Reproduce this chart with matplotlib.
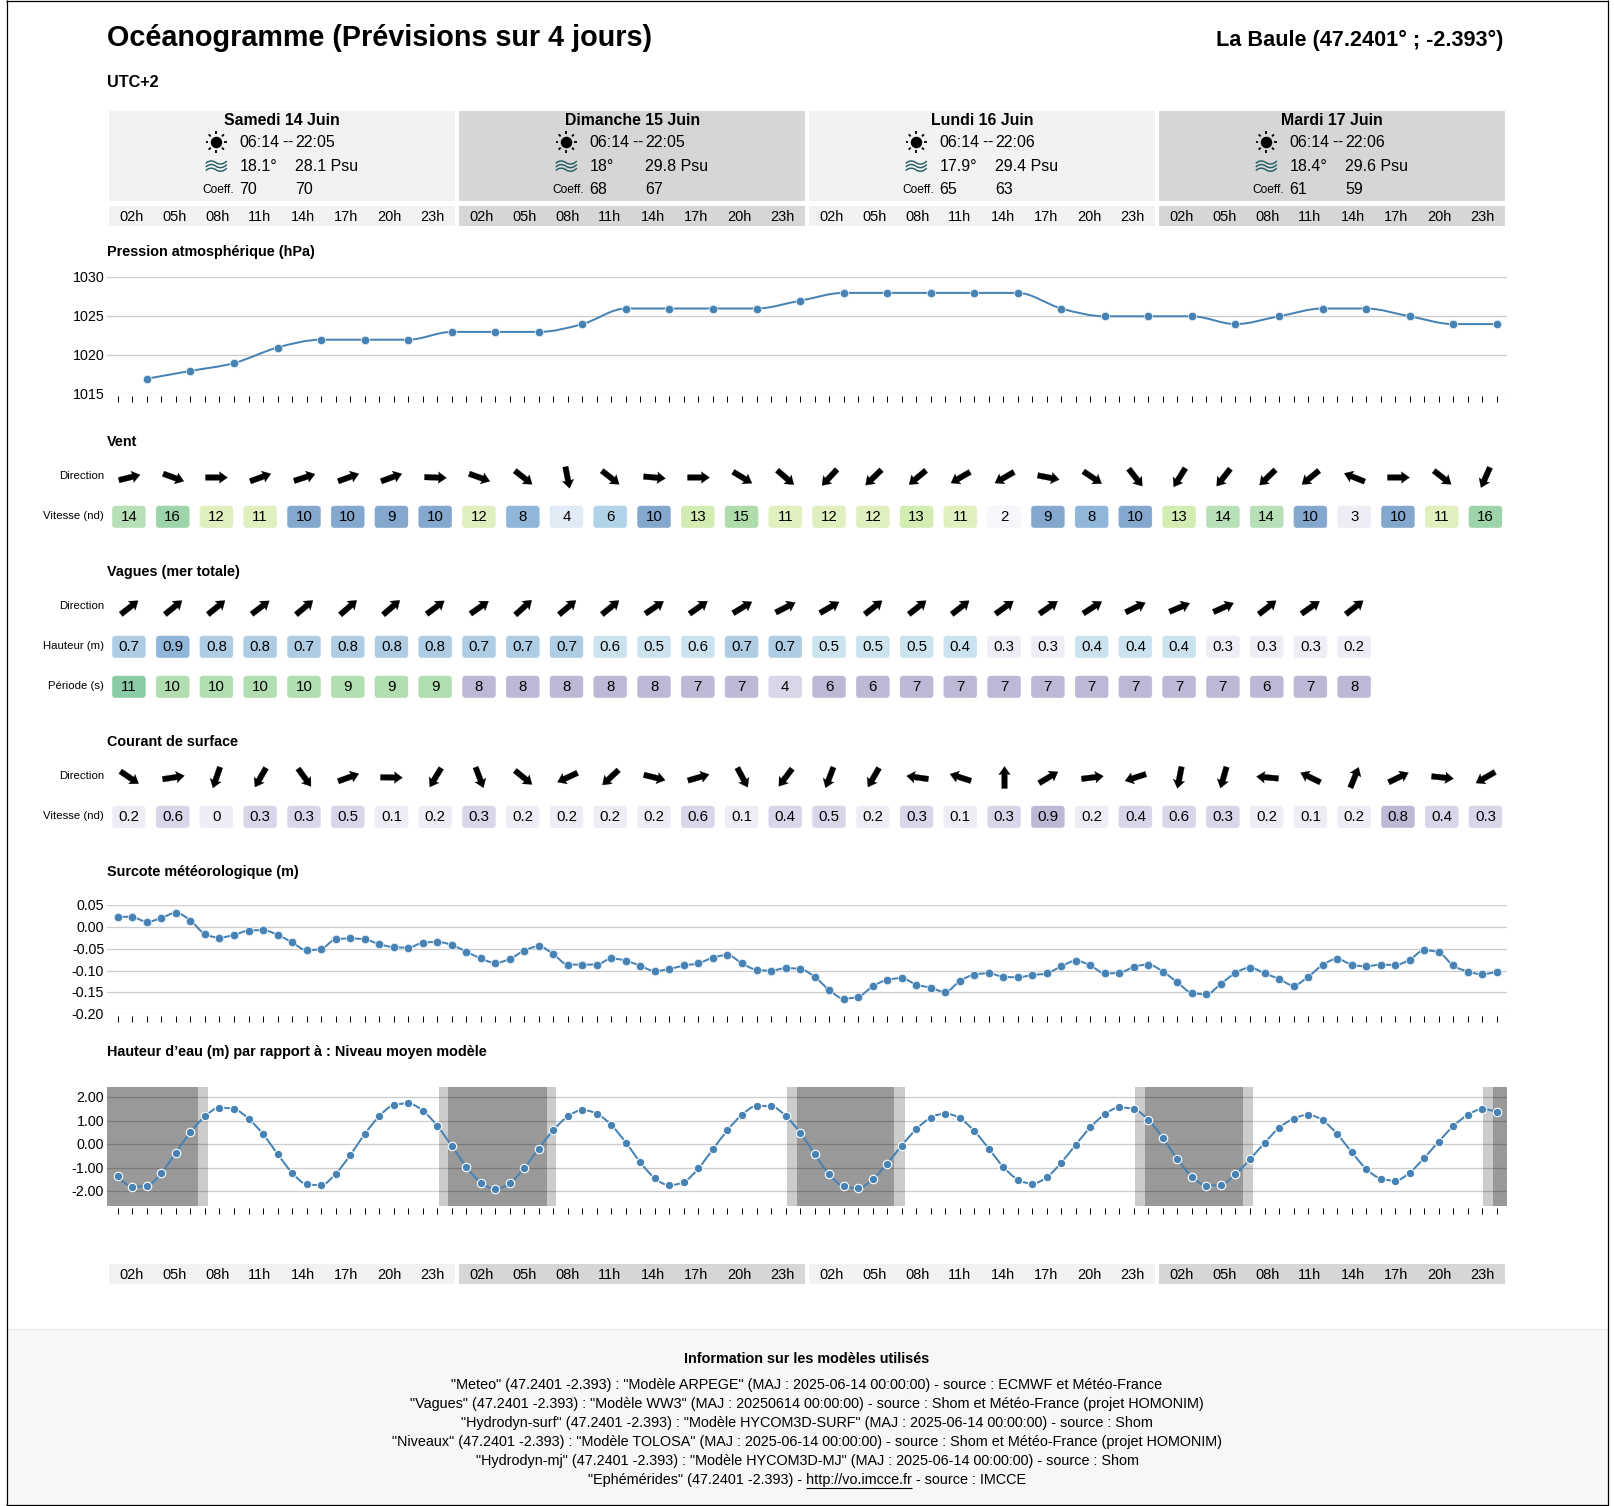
import numpy as np
import matplotlib
matplotlib.use("Agg")
import matplotlib.pyplot as plt
from matplotlib.path import Path
from matplotlib.patches import PathPatch, FancyBboxPatch, Rectangle
from matplotlib.markers import MarkerStyle
from matplotlib.transforms import ScaledTranslation

plt.rcParams['font.family'] = ['Liberation Sans', 'DejaVu Sans']
plt.rcParams['ytick.alignment'] = 'center'

W, H = 1614, 1506
DAYS = ["Samedi 14 Juin", "Dimanche 15 Juin", "Lundi 16 Juin", "Mardi 17 Juin"]
SUNRISE = ["06:14", "06:14", "06:14", "06:14"]
SUNSET = ["22:05", "22:05", "22:06", "22:06"]
TEMP = ["18.1°", "18°", "17.9°", "18.4°"]
SALT = ["28.1 Psu", "29.8 Psu", "29.4 Psu", "29.6 Psu"]
COEF_AM = ["70", "68", "65", "61"]
COEF_PM = ["70", "67", "63", "59"]
HOURS = ["02h", "05h", "08h", "11h", "14h", "17h", "20h", "23h"]

PRESSURE = [1017, 1018, 1019, 1021, 1022, 1022, 1022, 1023, 1023, 1023, 1024, 1026, 1026, 1026, 1026, 1027,
            1028, 1028, 1028, 1028, 1028, 1026, 1025, 1025, 1025, 1024, 1025, 1026, 1026, 1025, 1024, 1024]
WIND_DIR = [76, 110, 90, 70, 72, 70, 70, 92, 110, 128, 169, 128, 95, 90, 121, 131,
            223, 226, 230, 240, 240, 101, 124, 142, 212, 218, 226, 231, 292, 90, 128, 204]
WIND_SPD = [14, 16, 12, 11, 10, 10, 9, 10, 12, 8, 4, 6, 10, 13, 15, 11,
            12, 12, 13, 11, 2, 9, 8, 10, 13, 14, 14, 10, 3, 10, 11, 16]
WAVE_DIR = [52, 51, 51, 53, 50, 49, 49, 53, 55, 48, 50, 51, 56, 55, 59, 63,
            60, 52, 52, 52, 54, 55, 57, 64, 67, 66, 52, 55, 52]
WAVE_H = [0.7, 0.9, 0.8, 0.8, 0.7, 0.8, 0.8, 0.8, 0.7, 0.7, 0.7, 0.6, 0.5, 0.6, 0.7, 0.7,
          0.5, 0.5, 0.5, 0.4, 0.3, 0.3, 0.4, 0.4, 0.4, 0.3, 0.3, 0.3, 0.2]
WAVE_T = [11, 10, 10, 10, 10, 9, 9, 9, 8, 8, 8, 8, 8, 7, 7, 4,
          6, 6, 7, 7, 7, 7, 7, 7, 7, 7, 6, 7, 8]
CUR_DIR = [124, 81, 199, 210, 144, 70, 91, 211, 159, 129, 245, 227, 104, 74, 152, 217,
           201, 210, 278, 288, 0, 59, 83, 252, 191, 196, 275, 296, 22, 64, 96, 240]
CUR_SPD = ["0.2", "0.6", "0", "0.3", "0.3", "0.5", "0.1", "0.2", "0.3", "0.2", "0.2", "0.2", "0.2", "0.6", "0.1", "0.4",
           "0.5", "0.2", "0.3", "0.1", "0.3", "0.9", "0.2", "0.4", "0.6", "0.3", "0.2", "0.1", "0.2", "0.8", "0.4", "0.3"]
SURGE = [.024, .023, .012, .021, .033, .015, -.016, -.024, -.018, -.008, -.007, -.018, -.035, -.053, -.050, -.028,
         -.026, -.028, -.039, -.046, -.047, -.036, -.034, -.041, -.056, -.072, -.082, -.073, -.054, -.044, -.062, -.086,
         -.086, -.086, -.072, -.077, -.089, -.101, -.096, -.088, -.083, -.070, -.064, -.083, -.098, -.100, -.094, -.096,
         -.114, -.144, -.164, -.160, -.136, -.121, -.117, -.132, -.139, -.149, -.124, -.109, -.106, -.114, -.115, -.110,
         -.106, -.090, -.077, -.088, -.106, -.105, -.091, -.086, -.102, -.127, -.151, -.154, -.130, -.105, -.093, -.106,
         -.119, -.134, -.114, -.087, -.073, -.086, -.090, -.086, -.087, -.075, -.053, -.058, -.088, -.102, -.108, -.102]
LEVEL = [-1.36, -1.80, -1.77, -1.21, -.35, .51, 1.19, 1.56, 1.50, 1.09, .43, -.41, -1.21, -1.70, -1.74, -1.26,
         -.47, .43, 1.19, 1.67, 1.74, 1.43, .79, -.07, -.96, -1.63, -1.90, -1.66, -1.01, -.18, .60, 1.19,
         1.45, 1.30, .82, .07, -.77, -1.45, -1.74, -1.60, -1.02, -.21, .60, 1.26, 1.63, 1.62, 1.21, .50,
         -.41, -1.28, -1.79, -1.87, -1.49, -.82, -.06, .64, 1.13, 1.30, 1.11, .57, -.18, -.96, -1.50, -1.67,
         -1.40, -.78, -.01, .72, 1.28, 1.57, 1.50, 1.04, .27, -.64, -1.38, -1.76, -1.72, -1.28, -.64, .06,
         .70, 1.09, 1.25, 1.02, .44, -.33, -1.04, -1.46, -1.55, -1.21, -.58, .11, .77, 1.25, 1.50, 1.38]
# hour index of twilight start / night start / night end / twilight end
DUSK_START = [22.09, 46.1, 70.07, 94.04]
DUSK_END = [22.76, 46.8, 70.78, 94.74]
DAWN_START = [5.53, 29.54, 53.5, 77.5]
DAWN_END = [6.24, 30.21, 54.2, 78.19]

WIND_COL = {2: '#f7f7fb', 3: '#ededf5', 4: '#e1ebf5', 6: '#b0d3e8', 8: '#90b7da', 9: '#84a7cd', 10: '#84a7cd',
            11: '#e0f0bf', 12: '#dfefbd', 13: '#d2ecb2', 14: '#b8e0b8', 15: '#aedcab', 16: '#9dd4a9'}
WAVEH_COL = {0.9: '#90b7da', 0.8: '#aecde4', 0.7: '#aecde4', 0.6: '#cbe2ef', 0.5: '#cbe2ef', 0.4: '#cbe2ef',
             0.3: '#ededf5', 0.2: '#ededf5'}
WAVET_COL = {11: '#8acba6', 10: '#b1deb0', 9: '#b1deb0', 8: '#bdb8d6', 7: '#bdb8d6', 6: '#bdb8d6', 4: '#d8d6e9'}
CUR_COL = {"0": '#ededf5', "0.1": '#ededf5', "0.2": '#ededf5', "0.3": '#d8d6e9', "0.4": '#d8d6e9', "0.5": '#d8d6e9',
           "0.6": '#d8d6e9', "0.8": '#bdb8d6', "0.9": '#bdb8d6'}

FOOT = ['"Meteo" (47.2401 -2.393) : "Modèle ARPEGE" (MAJ : 2025-06-14 00:00:00) - source : ECMWF et Météo-France',
        '"Vagues" (47.2401 -2.393) : "Modèle WW3" (MAJ : 20250614 00:00:00) - source : Shom et Météo-France (projet HOMONIM)',
        '"Hydrodyn-surf" (47.2401 -2.393) : "Modèle HYCOM3D-SURF" (MAJ : 2025-06-14 00:00:00) - source : Shom',
        '"Niveaux" (47.2401 -2.393) : "Modèle TOLOSA" (MAJ : 2025-06-14 00:00:00) - source : Shom et Météo-France (projet HOMONIM)',
        '"Hydrodyn-mj" (47.2401 -2.393) : "Modèle HYCOM3D-MJ" (MAJ : 2025-06-14 00:00:00) - source : Shom']
LINK_PRE = '"Ephémérides" (47.2401 -2.393) - '
LINK = 'http://vo.imcce.fr'
LINK_POST = ' - source : IMCCE'

BLUE = '#4682b4'
GRID = '#cccccc'
px2pt = 0.72

fig = plt.figure(figsize=(W / 100, H / 100), dpi=100, facecolor='white')


def px_axes(x0, y0, x1, y1, z=1):
    ax = fig.add_axes([x0 / W, 1 - y1 / H, (x1 - x0) / W, (y1 - y0) / H], zorder=z)
    ax.patch.set_visible(False)
    return ax


bg = px_axes(0, 0, W, H, z=0)
bg.set_xlim(0, W)
bg.set_ylim(H, 0)
bg.axis('off')


def T(x, y, s, px=14, ha='left', bold=False, color='black', **kw):
    return bg.text(x, y + 1, s, fontsize=px * px2pt, ha=ha, va='center', fontweight='bold' if bold else 'normal',
                   color=color, **kw)


# frame and footer
bg.add_patch(Rectangle((6.5, 1329), 1601, 176, fc='#f7f7f7', ec='none'))
bg.plot([6.5, 1607.5], [1329, 1329], color='#e7e7e7', lw=0.9)
for xs, ys in [([6.5, 6.5], [0, 1505.5]), ([1607.5, 1607.5], [0, 1505.5]),
               ([6, 1608], [0.5, 0.5]), ([6, 1608], [1505.3, 1505.3])]:
    bg.plot(xs, ys, color='black', lw=0.9, solid_capstyle='butt')

T(107, 37, "Océanogramme (Prévisions sur 4 jours)", px=28.8, bold=True)
T(1503, 39, "La Baule (47.2401° ; -2.393°)", px=21.6, ha='right', bold=True)
T(107, 81, "UTC+2", px=16.2, bold=True)

DAY_X = 109.1
DAY_W = 346.0
DAY_STEP = 350.0
BAND = ['#f2f2f2', '#d6d6d6']


def hour_row(y0, y1):
    for d in range(4):
        x = DAY_X + d * DAY_STEP
        bg.add_patch(Rectangle((x, y0), DAY_W, y1 - y0, fc=BAND[d % 2], ec='none'))
        for k, h in enumerate(HOURS):
            T(x + 22.5 + k * 42.95 - 12.1, (y0 + y1) / 2, h, px=14.5)


WAVE_PATH = [(-10.5, 1.2), (-7, -2.2), (-3.5, -1.8), (0, 0.6), (3.5, 2.8), (7, 2.2), (10.5, -1.2)]
WAVE_CODES = [Path.MOVETO] + [Path.CURVE4] * 6

hour_row(206, 226)
hour_row(1264, 1284)
for d in range(4):
    x = DAY_X + d * DAY_STEP
    bg.add_patch(Rectangle((x, 111), DAY_W, 90, fc=BAND[d % 2], ec='none'))
    T(x + DAY_W / 2, 119.5, DAYS[d], px=15.9, ha='center', bold=True)
    tx, sx = x + 130.2, x + 186.3
    T(tx, 141.5, SUNRISE[d], px=16)
    T(tx + 42.7, 141.5, "-", px=16)
    T(tx + 47.8, 141.5, "-", px=16)
    T(sx, 141.5, SUNSET[d], px=16)
    T(tx, 165.5, TEMP[d], px=16)
    T(sx, 165.5, SALT[d], px=16)
    T(tx, 188.5, COEF_AM[d], px=16)
    T(sx, 188.5, COEF_PM[d], px=16)
    T(tx - 5.6, 189, "Coeff.", px=12, ha='right')
    cx = x + 107.2
    bg.plot([cx], [142], 'o', color='black', ms=11.5 * px2pt, mew=0)
    for a in np.deg2rad(np.arange(0, 360, 45)):
        bg.plot([cx + 8 * np.cos(a), cx + 10.8 * np.cos(a)], [142 + 8 * np.sin(a), 142 + 10.8 * np.sin(a)],
                color='black', lw=1.3, solid_capstyle='butt')
    for off in (-3.6, 0, 3.6):
        verts = [(cx + u, 165.8 + off + v) for u, v in WAVE_PATH]
        bg.add_patch(PathPatch(Path(verts, WAVE_CODES), fc='none', ec='#1f5a63', lw=1.0))

for y, s in [(251, "Pression atmosphérique (hPa)"), (441, "Vent"), (571, "Vagues (mer totale)"),
             (741, "Courant de surface"), (871, "Surcote météorologique (m)"),
             (1051, "Hauteur d’eau (m) par rapport à : Niveau moyen modèle")]:
    T(107, y, s, px=14.4, bold=True)

for y, s in [(475, "Direction"), (515, "Vitesse (nd)"), (605, "Direction"), (645, "Hauteur (m)"),
             (685, "Période (s)"), (775, "Direction"), (815, "Vitesse (nd)")]:
    T(104, y, s, px=11.4, ha='right')

# charts
X_L, X_R = 107.0, 1507.0
X0, DX = 117.9, 14.514


def monotone(x, y):
    x = np.asarray(x, float)
    y = np.asarray(y, float)
    h = np.diff(x)
    s = np.diff(y) / h
    t = np.zeros(len(x))
    for i in range(1, len(x) - 1):
        p = (s[i - 1] * h[i] + s[i] * h[i - 1]) / (h[i - 1] + h[i])
        t[i] = (np.sign(s[i - 1]) + np.sign(s[i])) * min(abs(s[i - 1]), abs(s[i]), 0.5 * abs(p))
    t[0] = (3 * s[0] - t[1]) / 2
    t[-1] = (3 * s[-1] - t[-2]) / 2
    v = [(x[0], y[0])]
    c = [Path.MOVETO]
    for i in range(len(h)):
        d = h[i] / 3
        v += [(x[i] + d, y[i] + d * t[i]), (x[i + 1] - d, y[i + 1] - d * t[i + 1]), (x[i + 1], y[i + 1])]
        c += [Path.CURVE4] * 3
    return Path(v, c)


def chart(y0, y1, ylim, yticks, fmt, xs, vals, ms=8.4, mew=0.8, mec='#e6eef6'):
    ax = px_axes(X_L, y0, X_R, y1, z=2)
    ax.set_xlim((X_L - X0) / DX, (X_R - X0) / DX)
    ax.set_ylim(*ylim)
    ax.set_axisbelow(True)
    ax.set_yticks(yticks)
    ax.set_yticklabels([fmt.format(v) for v in yticks], fontsize=14.3 * px2pt)
    ax.set_xticks(np.arange(96))
    ax.tick_params(axis='x', length=6 * px2pt, width=0.72, labelbottom=False, color='black')
    ax.tick_params(axis='y', length=0, pad=2.0)
    shift = ScaledTranslation(0, -1 / 100, fig.dpi_scale_trans)
    for lab in ax.get_yticklabels():
        lab.set_transform(lab.get_transform() + shift)
    ax.grid(axis='y', color=GRID, lw=0.9, zorder=0.5)
    for k, sp in ax.spines.items():
        sp.set_visible(False)
    ax.spines['bottom'].set_position(('outward', 1.5))
    ax.add_patch(PathPatch(monotone(xs, vals), fc='none', ec=BLUE, lw=2 * px2pt, zorder=3))
    ax.plot(xs, vals, ls='none', marker='o', ms=ms * px2pt, mfc=BLUE, mec=mec, mew=mew * px2pt, zorder=4)
    return ax


chart(277.3, 394.3, (1015, 1030), [1015, 1020, 1025, 1030], "{:d}", np.arange(2, 96, 3), PRESSURE)
chart(905.3, 1014.3, (-0.20, 0.05), [-0.20, -0.15, -0.10, -0.05, 0.00, 0.05], "{:.2f}", np.arange(96), SURGE)
ax = chart(1087, 1205.7, (-2.613, 2.438), [-2, -1, 0, 1, 2], "{:.2f}", np.arange(96), LEVEL, ms=8.5, mew=1.1, mec='white')
lo, hi = ax.get_xlim()
starts = [lo] + DUSK_END
ends = DAWN_START + [hi]
for a, b in zip(starts, ends):
    ax.axvspan(a, b, color='black', alpha=0.4, lw=0, zorder=1)
for a, b in list(zip(DAWN_START, DAWN_END)) + list(zip(DUSK_START, DUSK_END)):
    ax.axvspan(a, b, color='black', alpha=0.2, lw=0, zorder=1)

# arrows and value cells
C0, CS = 128.9, 43.76
cells = px_axes(X_L, 420, X_R, 850, z=3)
cells.set_xlim((X_L - C0) / CS, (X_R - C0) / CS)
cells.set_ylim(850, 420)
cells.axis('off')

ARROW = Path([(-2.8, -11), (2.8, -11), (2.8, 3.5), (5.8, 2.8), (0, 11), (-5.8, 2.8), (-2.8, 3.5), (-2.8, -11)],
             [Path.MOVETO] + [Path.LINETO] * 6 + [Path.CLOSEPOLY])


def arrows(dirs, y):
    for i, a in enumerate(dirs):
        cells.plot([i], [y], ls='none', marker=MarkerStyle(ARROW).rotated(deg=-a), ms=22 * px2pt,
                   mfc='black', mec='black', mew=0.2)


def row(vals, cols, y0, h=21.7):
    w = 33 / CS
    for i, v in enumerate(vals):
        cells.add_patch(FancyBboxPatch((i - w / 2, y0), w, h, boxstyle=f"round,pad=0,rounding_size={3 / CS}",
                                       mutation_aspect=CS, fc=cols[v], ec=cols[v], lw=0.3))
        cells.text(i, y0 + h / 2, str(v), ha='center', va='center', fontsize=15 * px2pt, color='black')


arrows(WIND_DIR, 476.7)
row(WIND_SPD, WIND_COL, 506)
arrows(WAVE_DIR, 607)
row(WAVE_H, WAVEH_COL, 636)
row(WAVE_T, WAVET_COL, 676)
arrows(CUR_DIR, 776.7)
row(CUR_SPD, CUR_COL, 806)

# footer text
FX = 807
T(FX, 1358, "Information sur les modèles utilisés", px=14.4, ha='center', bold=True)
for k, s in enumerate(FOOT):
    T(FX, 1384.3 + 19 * k, s, px=14.43, ha='center')
full = T(FX, 1479.3, LINK_PRE + LINK + LINK_POST, px=14.43, ha='center')
fig.canvas.draw()
r = fig.canvas.get_renderer()
ext = full.get_window_extent(r)


def width(s):
    t = T(0, 0, s + '|', px=14.43)
    b = T(0, 0, '|', px=14.43)
    w = t.get_window_extent(r).width - b.get_window_extent(r).width
    t.remove()
    b.remove()
    return w


ux0 = ext.x0 + width(LINK_PRE)
bg.plot([ux0, ux0 + width(LINK)], [1487.5, 1487.5], color='black', lw=0.8, solid_capstyle='butt')

fig.savefig('out.png', dpi=100, facecolor='white')
